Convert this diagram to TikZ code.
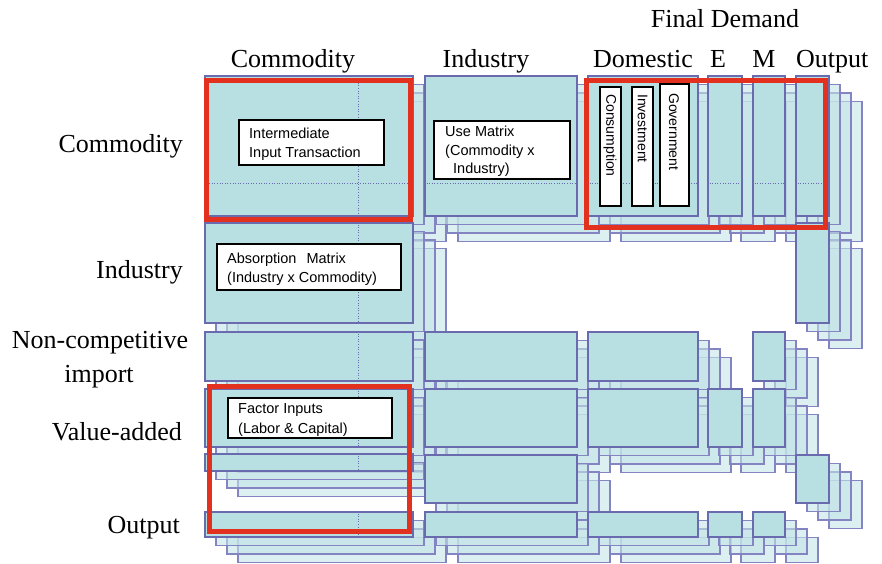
\documentclass[tikz,border=0pt]{standalone}
\usepackage{fontspec}
\setmainfont{Liberation Serif}
\newfontfamily\boxfont{Liberation Sans}
\definecolor{frontfill}{HTML}{B8DFE1}
\definecolor{frontdraw}{HTML}{6A6AAE}
\definecolor{copyfill}{HTML}{C4E4E7}
\definecolor{copydraw}{HTML}{8484C2}
\definecolor{redbox}{HTML}{E2311F}
\tikzset{
  frontblk/.style={fill=frontfill, draw=frontdraw, line width=1.8pt},
  copyblk/.style={fill=copyfill, fill opacity=0.6, draw=copydraw, line width=1.1pt},
  redframe/.style={draw=redbox, line width=5pt},
  dotline/.style={draw=frontdraw, line width=0.9pt, dash pattern=on 1pt off 1.6pt},
  wbox/.style={draw=black, line width=2pt, fill=white, inner sep=0pt},
  btxt/.style={font=\boxfont\fontsize{14.5}{17}\selectfont, inner sep=0pt, anchor=base west},
  vtxt/.style={font=\boxfont\fontsize{14}{16}\selectfont, inner sep=0pt, anchor=west, rotate=-90},
  lbl/.style={font=\fontsize{26}{30}\selectfont, inner sep=0pt},
}
\def\blocks{205/76/413/216, 425/76/577/216, 588/76/698/216, 708/76/742/216, 753/76/785/216, 796/76/829/216,
 205/223/413/323, 796/223/829/323,
 205/332/413/381, 425/332/577/381, 588/332/698/381, 753/332/785/381,
 205/389/413/447, 425/389/577/447, 588/389/698/447, 708/389/742/447, 753/389/785/447,
 205/454/413/471, 425/455/577/503, 796/455/829/503,
 205/512/413/537, 425/512/577/537, 588/512/698/537, 708/512/742/537, 753/512/785/537}
\begin{document}
\begin{tikzpicture}[x=1pt,y=-1pt]
\useasboundingbox (0,0) rectangle (882,563);
% back copies, layer by layer
\foreach \k in {3,2,1} {
  \foreach \a/\b/\c/\d in \blocks {
    \draw[copyblk] (\a+\k*11,\b+\k*8.5) rectangle (\c+\k*11,\d+\k*8.5);
  }
}
% front blocks
\foreach \a/\b/\c/\d in \blocks {
  \draw[frontblk] (\a,\b) rectangle (\c,\d);
}
% dotted grid lines
\foreach \b/\d in {76/216, 223/323, 332/381, 389/447, 454/471, 512/537} {
  \draw[dotline] (358,\b+1.5) -- (358,\d-1.5);
}
\foreach \a/\c in {205/413, 425/577, 588/698, 708/742, 753/785, 796/829} {
  \draw[dotline] (\a+1.5,183) -- (\c-1.5,183);
}
% white text boxes
\node[wbox, minimum width=145pt, minimum height=45pt] (iit) at (311.5,142) {};
\node[btxt] (iit1) at (249,138) {Intermediate};
\node[btxt] (iit2) at (249,157) {Input Transaction};
\node[wbox, minimum width=136pt, minimum height=58pt] (use) at (501.5,149.5) {};
\node[btxt] (use1) at (445,136) {Use Matrix};
\node[btxt] (use2) at (445,155) {(Commodity x};
\node[btxt] (use3) at (453,173) {Industry)};
\node[wbox, minimum width=184pt, minimum height=46pt] (abs) at (308.5,266.5) {};
\node[btxt] (abs1) at (227,263) {Absorption\hspace{10pt}Matrix};
\node[btxt] (abs2) at (227,282) {(Industry x Commodity)};
\node[wbox, minimum width=164pt, minimum height=40pt] (fac) at (309.5,417.5) {};
\node[btxt] (fac1) at (238,413) {Factor Inputs};
\node[btxt] (fac2) at (238,433) {(Labor \& Capital)};
\node[wbox, minimum width=21pt, minimum height=119pt] (cons) at (610,146.5) {};
\node[vtxt] (cons1) at (610,94) {Consumption};
\node[wbox, minimum width=21pt, minimum height=119pt] (inv) at (642.5,146.5) {};
\node[vtxt] (inv1) at (642.5,94) {Investment};
\node[wbox, minimum width=29pt, minimum height=122pt] (gov) at (674,145) {};
\node[vtxt] (gov1) at (674,93) {Government};
% red frames
\draw[redframe] (206,80) rectangle (410,219);
\draw[redframe] (586,80) rectangle (825,227);
\draw[redframe] (209,386) rectangle (409,531);
% header labels
\node[lbl, anchor=base] (fd) at (725,27) {Final Demand};
\node[lbl, anchor=base] (hc) at (293,67) {Commodity};
\node[lbl, anchor=base] (hi) at (486,67) {Industry};
\node[lbl, anchor=base] (hd) at (643,67) {Domestic};
\node[lbl, anchor=base] (he) at (718,67) {E};
\node[lbl, anchor=base] (hm) at (764,67) {M};
\node[lbl, anchor=base west] (ho) at (796,67) {Output};
% row labels
\node[lbl, anchor=base east] (rc) at (183,152) {Commodity};
\node[lbl, anchor=base east] (ri) at (183,278) {Industry};
\node[lbl, anchor=base] (rn1) at (100,348) {Non-competitive};
\node[lbl, anchor=base] (rn2) at (99,382) {import};
\node[lbl, anchor=base east] (rv) at (182,440) {Value-added};
\node[lbl, anchor=base east] (ro) at (180,533) {Output};
\end{tikzpicture}
\end{document}
